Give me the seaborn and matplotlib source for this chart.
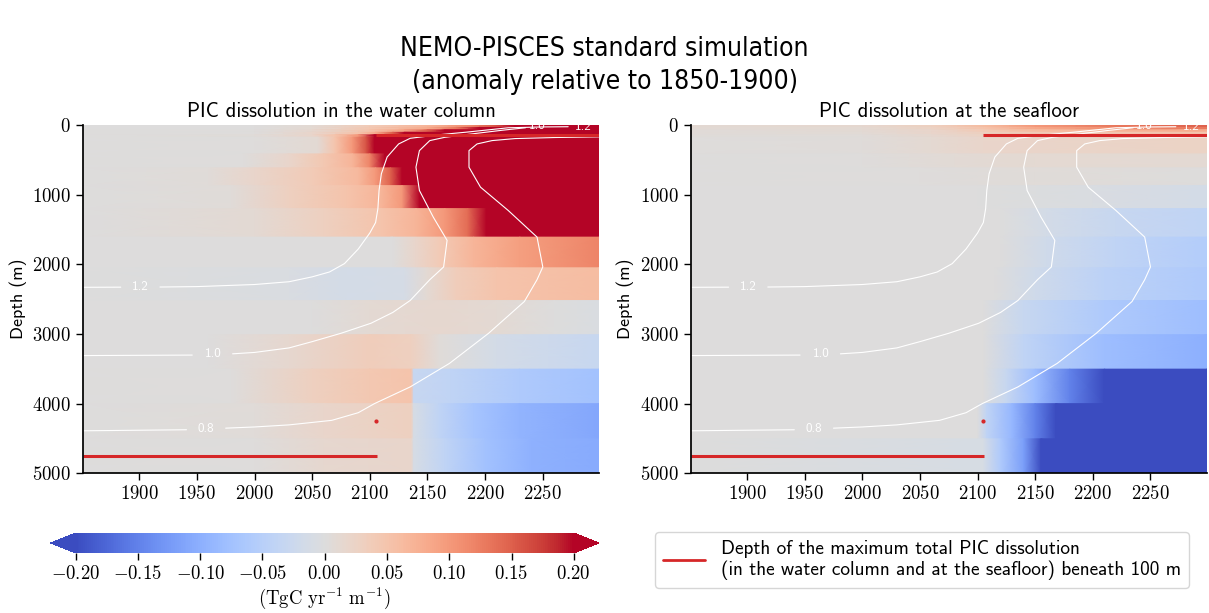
import matplotlib
matplotlib.use("Agg")
import matplotlib.pyplot as plt
import numpy as np
import seaborn as sns
from matplotlib import font_manager
from matplotlib.cm import ScalarMappable
from matplotlib.colors import Normalize
from matplotlib.lines import Line2D
from matplotlib.ticker import FuncFormatter

nan = np.nan

# Depth layers (m) used for both panels
layer_edges = [0, 35, 70, 105, 140, 175, 415, 615, 870, 1200, 1610, 2050,
               2520, 3010, 3505, 4000, 4505, 5000]

# PIC dissolution anomaly in the water column, (year, value) read per layer
wc_rows = [
    [(1851, 0), (2000, 0), (2050, 0.01), (2100, 0.04), (2150, 0.07), (2185, 0.11), (2205, 0.15), (2226, 0.2), (2299, 0.2)],
    [(1851, 0), (2000, 0), (2050, 0.012), (2100, 0.045), (2150, 0.08), (2175, 0.13), (2195, 0.2), (2299, 0.2)],
    [(1851, 0), (2000, 0.002), (2050, 0.015), (2100, 0.05), (2130, 0.09), (2150, 0.15), (2165, 0.2), (2299, 0.2)],
    [(1851, 0), (2000, 0.003), (2050, 0.02), (2090, 0.05), (2105, 0.08), (2120, 0.15), (2130, 0.2), (2299, 0.2)],
    [(1851, 0), (2000, 0.005), (2050, 0.02), (2070, 0.05), (2090, 0.1), (2104, 0.2), (2299, 0.2)],
    [(1851, 0), (2000, 0.003), (2055, 0.01), (2070, 0.05), (2085, 0.1), (2097, 0.16), (2104, 0.2), (2299, 0.2)],
    [(1851, 0), (1990, 0.003), (2030, 0.02), (2060, 0.045), (2085, 0.07), (2100, 0.12), (2113, 0.2), (2299, 0.2)],
    [(1851, 0), (1960, 0.005), (2000, 0.02), (2050, 0.04), (2090, 0.065), (2105, 0.1), (2118, 0.15), (2128, 0.2), (2299, 0.2)],
    [(1851, 0), (1980, 0.005), (2030, 0.03), (2080, 0.05), (2110, 0.07), (2128, 0.1), (2143, 0.2), (2299, 0.2)],
    [(1851, 0), (2000, 0.01), (2060, 0.03), (2110, 0.05), (2140, 0.07), (2165, 0.1), (2185, 0.14), (2201, 0.2), (2299, 0.2)],
    [(1851, 0), (2120, 0), (2140, 0.02), (2160, 0.04), (2190, 0.07), (2230, 0.095), (2299, 0.12)],
    [(1851, 0), (2030, -0.005), (2080, -0.015), (2130, -0.012), (2150, 0.01), (2175, 0.035), (2210, 0.05), (2299, 0.06)],
    [(1851, 0), (2050, 0), (2100, 0.01), (2160, 0.015), (2210, 0.01), (2260, 0.0), (2299, -0.005)],
    [(1851, 0), (1960, 0), (2030, 0.015), (2100, 0.035), (2136, 0.03), (2160, 0.005), (2210, -0.015), (2299, -0.03)],
    [(1851, 0), (1980, 0.003), (2050, 0.03), (2100, 0.045), (2136, 0.05), (2138, -0.03), (2170, -0.04), (2230, -0.06), (2299, -0.075)],
    [(1851, 0), (2000, 0.005), (2060, 0.02), (2136, 0.03), (2138, -0.01), (2160, -0.04), (2190, -0.07), (2230, -0.095), (2299, -0.11)],
    [(1851, 0), (2000, 0.003), (2060, 0.015), (2136, 0.02), (2138, -0.01), (2165, -0.04), (2200, -0.075), (2240, -0.097), (2299, -0.105)],
]

# PIC dissolution anomaly at the seafloor
sf_rows = [
    [(1851, 0.01), (2000, 0.015), (2060, 0.03), (2105, 0.06), (2150, 0.1), (2220, 0.13), (2299, 0.15)],
    [(1851, 0.008), (2000, 0.012), (2060, 0.025), (2105, 0.05), (2150, 0.085), (2220, 0.11), (2299, 0.13)],
    [(1851, 0.006), (2000, 0.01), (2060, 0.02), (2105, 0.04), (2150, 0.06), (2299, 0.08)],
    [(1851, 0.005), (2000, 0.008), (2060, 0.02), (2105, 0.03), (2150, 0.04), (2299, 0.05)],
    [(1851, 0.004), (2000, 0.006), (2060, 0.015), (2105, 0.025), (2299, 0.035)],
    [(1851, 0.002), (2000, 0.004), (2060, 0.012), (2105, 0.02), (2299, 0.025)],
    [(1851, 0), (2000, 0.003), (2080, 0.008), (2150, 0.012), (2299, 0.01)],
    [(1851, 0), (2050, 0.003), (2150, 0.006), (2299, 0.0)],
    [(1851, 0), (2100, 0), (2200, -0.005), (2299, -0.015)],
    [(1851, 0), (2120, 0), (2160, -0.015), (2220, -0.03), (2299, -0.04)],
    [(1851, 0), (2120, 0), (2160, -0.02), (2220, -0.04), (2299, -0.055)],
    [(1851, 0), (2115, 0), (2150, -0.02), (2210, -0.045), (2299, -0.06)],
    [(1851, 0), (2105, 0), (2140, -0.03), (2210, -0.06), (2299, -0.08)],
    [(1851, 0), (2105, 0), (2140, -0.04), (2210, -0.08), (2299, -0.1)],
    [(1851, 0), (2105, 0), (2125, -0.03), (2150, -0.08), (2180, -0.15), (2210, -0.2), (2299, -0.2)],
    [(1851, 0), (2100, 0), (2108, -0.04), (2130, -0.09), (2150, -0.15), (2168, -0.2), (2299, -0.2)],
    [(1851, 0), (2105, -0.01), (2120, -0.06), (2140, -0.12), (2155, -0.2), (2299, -0.2)],
]

# Saturation contours (year, depth), NaN where the inline label sits
c12_years = [1851, 1884, nan, 1918, 1950, 2000, 2030, 2050, 2065, 2078, 2090, 2100, 2105, 2107,
             2108, 2110, 2115, 2125, 2135, 2160, 2183, 2220, 2250, 2272]
c12_depth = [2330, 2328, nan, 2326, 2320, 2290, 2250, 2180, 2110, 1990, 1780, 1550, 1400, 1200,
             940, 700, 460, 272, 191, 140, 104, 40, 28, 25]
c10_years = [1851, 1946, nan, 1981, 2000, 2030, 2050, 2075, 2101, 2120, 2135, 2152, 2164, 2167,
             2155, 2143, 2140, 2143, 2152, 2165, 2190, 2215, 2235]
c10_depth = [3310, 3303, nan, 3285, 3265, 3200, 3110, 2990, 2846, 2690, 2519, 2221, 2038, 1656,
             1322, 940, 606, 368, 224, 177, 125, 75, 40]
c08_years = [1851, 1941, nan, 1975, 2000, 2030, 2067, 2090, 2104, 2135, 2169, 2203, 2234, 2245,
             2250, 2245, 2220, 2196, 2186, 2186, 2193, 2206, 2226, 2260, 2299]
c08_depth = [4390, 4375, nan, 4352, 4335, 4305, 4240, 4130, 4000, 3760, 3423, 2990, 2534, 2221,
             2038, 1609, 1227, 893, 606, 368, 272, 224, 195, 180, 170]
contour_labels = ["1.2", "1.0", "0.8", "1.2", "1.0"]
label_years = [1901, 1964, 1958, 2285, 2245]
label_depths = [2327, 3294, 4363, 22, 18]

# Depth of maximum total PIC dissolution beneath 100 m
deep_years = [1851, 2106]
deep_depth = [4750, 4750]
jump_year = [2105]
jump_depth = [4250]
shallow_years = [2105, 2299]
shallow_depth = [150, 150]

sns.set_theme(style="ticks")
plt.rcParams["font.family"] = ["cmss10", "DejaVu Sans"]
plt.rcParams["mathtext.fontset"] = "cm"
for key in ["axes.edgecolor", "xtick.color", "ytick.color", "text.color", "axes.labelcolor"]:
    plt.rcParams[key] = "black"

cmap = sns.color_palette("coolwarm", as_cmap=True)
norm = Normalize(vmin=-0.2, vmax=0.2)
red = "#d62728"

# condensed sans for the main title when available
has_condensed = any(f.name == "DejaVu Sans" and "condensed" in str(f.stretch)
                    for f in font_manager.fontManager.ttflist)

fig = plt.figure(figsize=(12.09, 6.13), dpi=100)
ax_wc = fig.add_axes([0.0684, 0.2279, 0.4273, 0.5682])
ax_sf = fig.add_axes([0.5712, 0.2279, 0.4271, 0.5682])


def draw_field(ax, rows):
    for top, bottom, knots in zip(layer_edges[:-1], layer_edges[1:], rows):
        yrs = [k[0] for k in knots]
        vals = [k[1] for k in knots]
        ax.pcolormesh(np.array([yrs, yrs]),
                      np.array([[top] * len(yrs), [bottom] * len(yrs)]),
                      np.array([vals, vals]),
                      cmap=cmap, norm=norm, shading="gouraud", rasterized=True)


for ax, rows, title in [(ax_wc, wc_rows, "PIC dissolution in the water column"),
                        (ax_sf, sf_rows, "PIC dissolution at the seafloor")]:
    draw_field(ax, rows)
    for xs, ys in [(c12_years, c12_depth), (c10_years, c10_depth), (c08_years, c08_depth)]:
        ax.plot(xs, ys, color="white", lw=0.8)
    for lab, lx, ly in zip(contour_labels, label_years, label_depths):
        ax.text(lx, ly, lab, color="white", fontsize=9.5, ha="center", va="center")
    ax.plot(deep_years, deep_depth, color=red, lw=2.2, solid_capstyle="butt")
    ax.plot(shallow_years, shallow_depth, color=red, lw=2.2, solid_capstyle="butt")
    ax.plot(jump_year, jump_depth, "o", color=red, ms=2)

    ax.set_xlim(1851, 2299)
    ax.set_ylim(5000, 0)
    ax.set_xticks(range(1900, 2251, 50))
    ax.set_yticks(range(0, 5001, 1000))
    ax.xaxis.set_major_formatter(FuncFormatter(lambda v, p: f"${v:.0f}$"))
    ax.yaxis.set_major_formatter(FuncFormatter(lambda v, p: f"${v:.0f}$"))
    ax.tick_params(labelsize=13.5, length=5, width=1)
    ax.set_ylabel("Depth (m)", fontsize=13)
    ax.set_title(title, fontsize=14.8, pad=6)
    sns.despine(ax=ax)

# Colorbar
cax = fig.add_axes([0.0419, 0.0979, 0.4533, 0.0326])
cb = fig.colorbar(ScalarMappable(norm=norm, cmap=cmap), cax=cax, orientation="horizontal",
                  extend="both", ticks=[-0.2, -0.15, -0.1, -0.05, 0, 0.05, 0.1, 0.15, 0.2])
cb.outline.set_visible(False)
cb.ax.xaxis.set_major_formatter(FuncFormatter(lambda v, p: f"${v:.2f}$"))
cb.ax.tick_params(labelsize=13.5, length=5, width=1)
cb.set_label(r"$(\mathrm{TgC\ yr^{-1}\ m^{-1}})$", fontsize=13.5, labelpad=2)

# Legend
handle = Line2D([], [], color=red, lw=2)
fig.legend([handle],
           ["Depth of the maximum total PIC dissolution\n(in the water column and at the seafloor) beneath 100 m"],
           loc="upper left", bbox_to_anchor=(0.5418, 0.1322), borderaxespad=0,
           fontsize=13.9, handlelength=2.2, frameon=True)

if has_condensed:
    title_font = dict(family="DejaVu Sans", fontstretch="condensed", fontsize=19)
else:
    title_font = dict(family="Liberation Sans", fontsize=18)
fig.text(0.5, 1 - 36 / 613, "NEMO-PISCES standard simulation\n(anomaly relative to 1850-1900)",
         ha="center", va="top", linespacing=1.35, **title_font)

fig.savefig("out.png", dpi=100)
